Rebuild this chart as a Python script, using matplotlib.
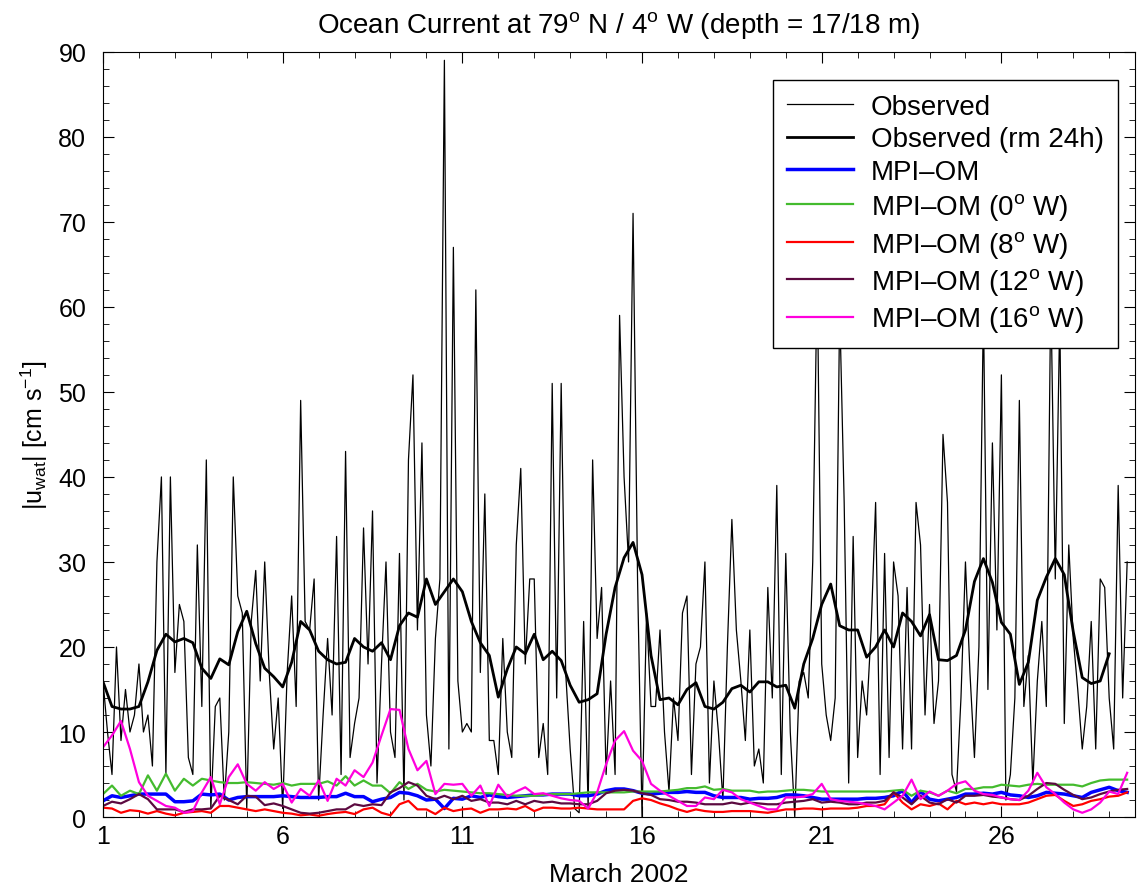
import matplotlib
matplotlib.use('Agg')
import matplotlib.pyplot as plt
import numpy as np
from matplotlib.ticker import MultipleLocator

# Observed current speed, 3-hourly, starting 1 March 00h (cm/s)
obs = [16, 10, 5, 20, 9, 15, 10, 12,
       18, 10, 12, 6, 30, 40, 5, 40,
       17, 25, 23, 7, 5, 32, 13, 42,
       1, 13, 14, 2, 10, 40, 26, 24,
       1, 23, 29, 16, 30, 17, 8, 14,
       1, 17, 26, 13, 49, 23, 22, 28,
       2, 12, 21, 12, 33, 5, 43, 7,
       11, 14, 34, 18, 36, 4, 18, 30,
       10, 7, 31, 2, 42, 52, 22, 44,
       12, 6, 21, 28, 89, 8, 67, 16,
       10, 11, 10, 62, 17, 38, 9, 9,
       5, 21, 10, 7, 32, 41, 18, 28,
       28, 7, 11, 5, 51, 14, 51, 17,
       8, 1, 0.5, 23, 1, 42, 21, 27,
       5, 16, 5, 59, 40, 30, 71, 28,
       0, 24, 13, 13, 22, 10, 3, 14,
       9, 24, 26, 5, 18, 20, 30, 4,
       16, 10, 2, 20, 35, 22, 16, 9,
       22, 6, 8, 4, 27, 14, 39, 5,
       31, 10, 0, 16, 17, 14, 30, 64,
       18, 12, 9, 14, 60, 37, 4, 33,
       7, 16, 12, 22, 37, 5, 31, 7,
       30, 26, 8, 27, 8, 37, 32, 12,
       25, 11, 16, 45, 37, 5, 3, 14,
       30, 17, 7, 20, 60, 15, 44, 22,
       52, 2, 5, 14, 49, 13, 19, 4,
       16, 23, 13, 62, 28, 59, 11, 32,
       21, 15, 8, 13, 23, 8, 28, 27,
       14, 8, 39, 14, 30]

# running mean 24h, 6-hourly
obs_rm = [15.9, 13, 12.7, 12.7, 13, 15.9, 19.6, 21.5,
          20.6, 21, 20.5, 17.5, 16.3, 18.6, 17.9, 21.8,
          24.2, 20.4, 17.5, 16.5, 15.3, 18.2, 23, 22,
          19.5, 18.5, 18, 18.2, 21, 20, 19.5, 20.5,
          18.5, 22.5, 24, 23.5, 28, 25, 26.5, 28,
          26.5, 23, 20.5, 19, 14.1, 17.4, 20, 19.2,
          21.5, 18.5, 19.5, 18.4, 15.5, 13.5, 13.8, 14.5,
          21.5, 27, 30.5, 32.3, 28.5, 19, 13.8, 14,
          13.2, 15, 15.8, 13, 12.7, 13.5, 15.1, 15.5,
          14.7, 15.9, 15.9, 15.3, 15.5, 12.8, 18, 21,
          25, 27.4, 22.5, 22, 22, 18.8, 20, 22,
          20, 24, 23, 21.3, 23.8, 18.5, 18.4, 19,
          22, 27.7, 30.4, 27.6, 22.9, 21.5, 15.6, 18.2,
          25.5, 28.2, 30.4, 28.5, 21.8, 16.4, 15.7, 16,
          19.2]

# model output, 6-hourly
mpiom = [1.9, 2.5, 2.3, 2.5, 2.7, 2.7, 2.7, 2.7, 1.8, 1.8, 1.9, 2.7,
         2.6, 2.7, 2.0, 2.3, 2.4, 2.4, 2.4, 2.4, 2.5, 2.4, 2.3, 2.3,
         2.3, 2.4, 2.4, 2.8, 2.4, 2.4, 1.8, 2.1, 2.3, 2.9, 2.8, 2.5,
         2.0, 2.1, 1.0, 2.2, 2.1, 2.5, 2.3, 2.6, 2.4, 2.3,
         2.4, 2.5, 2.6, 2.6, 2.7, 2.7, 2.7, 2.5, 2.5, 2.7, 3.1, 3.3,
         3.3, 3.1, 2.8, 2.7, 2.8, 2.9, 2.9, 3.0, 2.9, 2.9, 2.5, 2.3,
         2.3, 2.3, 2.1, 2.2, 2.2, 2.3, 2.6, 2.6, 2.5, 2.3, 2.1, 2.1,
         2.1, 2.1, 2.1, 2.2, 2.2, 2.3, 2.5, 3.1, 1.7, 3.0,
         2.1, 1.9, 2.1, 2.3, 2.7, 2.7, 2.8, 2.7, 2.9, 2.6, 2.5, 2.3,
         2.5, 2.9, 2.8, 2.7, 2.5, 2.3, 2.9, 3.2, 3.5, 3.1, 2.9]
mpiom_0w = [2.7, 3.7, 2.5, 3.1, 2.7, 4.9, 3.1, 5.1, 3.1, 4.5, 3.7, 4.5,
            4.3, 4.1, 4.0, 4.0, 4.1, 4.0, 3.9, 3.8, 4.0, 3.7, 3.9, 3.9,
            3.9, 4.2, 3.7, 4.8, 3.7, 4.3, 3.7, 3.7, 2.8, 4.1, 3.3, 3.9,
            3.2, 3.0, 3.2, 3.1, 3.0, 2.9, 2.8, 2.8, 2.7, 2.6,
            2.5, 2.5, 2.5, 2.6, 2.7, 2.7, 2.7, 2.8, 2.9, 2.9, 2.9, 2.9,
            2.9, 3.0, 3.0, 3.0, 3.0, 3.1, 3.2, 3.4, 3.4, 3.6, 3.2, 3.3,
            3.1, 3.1, 3.1, 2.9, 3.0, 3.0, 3.1, 3.2, 3.2, 3.1, 3.0, 3.0,
            3.0, 3.0, 3.0, 3.0, 3.0, 3.0, 3.1, 3.2, 2.5, 3.1,
            2.9, 2.5, 3.1, 2.8, 3.3, 3.3, 3.5, 3.5, 3.8, 3.7, 3.6, 3.8,
            3.9, 3.8, 3.8, 3.8, 3.8, 3.6, 4.0, 4.3, 4.4, 4.4, 4.4]
mpiom_8w = [1.1, 1.0, 0.5, 0.8, 0.7, 0.4, 0.7, 0.4, 0.2, 0.5, 0.6, 0.7,
            0.5, 1.3, 1.3, 1.1, 0.9, 0.7, 0.9, 0.7, 0.5, 0.4, 0.2, 0.3,
            0.15, 0.35, 0.5, 0.6, 0.35, 0.9, 1.1, 0.5, 0.2, 1.5, 1.9, 0.9,
            0.9, 0.35, 1.1, 0.7, 0.9, 1.0, 0.5, 0.9, 0.9, 1.0,
            0.9, 1.3, 0.7, 1.1, 1.1, 1.0, 1.0, 1.1, 1.0, 0.9, 0.9, 0.9,
            0.9, 1.9, 2.2, 2.0, 1.6, 1.3, 0.9, 0.6, 0.9, 0.7, 0.6, 0.6,
            0.7, 0.7, 0.7, 0.6, 0.5, 0.7, 0.9, 0.9, 1.0, 1.0, 0.9, 1.0,
            1.0, 1.0, 1.1, 1.3, 1.3, 1.5, 2.9, 1.7, 0.9, 1.5,
            1.3, 1.6, 0.9, 1.9, 1.5, 1.7, 1.5, 1.7, 1.5, 1.5, 1.5, 1.7,
            2.1, 2.5, 2.6, 1.9, 1.3, 1.5, 1.9, 2.1, 2.4, 2.5, 2.9]
mpiom_12w = [1.3, 1.8, 1.6, 2.1, 2.7, 2.1, 0.9, 0.9, 0.9, 0.6, 0.9, 0.9,
             1.0, 2.5, 2.0, 1.5, 2.5, 2.4, 1.4, 1.6, 1.3, 0.9, 0.5, 0.4,
             0.5, 0.7, 0.9, 0.9, 1.5, 1.3, 1.5, 1.4, 2.9, 3.4, 4.1, 3.7,
             2.5, 2.1, 2.5, 2.1, 2.5, 1.9, 2.1, 1.7, 1.7, 1.5,
             1.9, 1.5, 1.9, 1.7, 1.8, 1.6, 1.6, 1.5, 1.5, 1.9, 2.8, 3.1,
             3.2, 3.1, 2.8, 2.6, 2.1, 2.0, 1.8, 1.8, 1.7, 1.5, 1.5, 1.5,
             1.7, 1.5, 1.7, 1.6, 1.5, 1.5, 1.7, 1.8, 1.9, 2.1, 1.7, 1.8,
             1.7, 1.5, 1.5, 1.7, 1.7, 1.9, 2.9, 2.3, 1.5, 2.5,
             1.7, 1.5, 2.1, 1.7, 2.5, 2.5, 2.6, 2.4, 2.3, 2.1, 2.0, 2.5,
             3.3, 4.0, 3.9, 3.2, 2.6, 2.1, 2.3, 2.7, 3.0, 3.2, 3.3]
mpiom_16w = [8.2, 9.6, 11.3, 8.0, 4.1, 2.5, 1.9, 1.3, 1.1, 0.5, 0.7, 2.9,
             4.7, 1.5, 4.7, 6.2, 3.9, 3.1, 4.1, 3.3, 3.9, 1.7, 3.3, 2.5,
             4.3, 1.9, 4.5, 3.7, 5.5, 4.7, 6.4, 9.6, 12.7, 12.6, 8.0, 5.5,
             6.6, 2.7, 3.9, 3.8, 3.9, 2.5, 3.7, 1.3, 3.8, 2.4,
             3.0, 3.5, 2.7, 2.8, 2.5, 2.2, 2.0, 1.9, 1.0, 2.9, 6.2, 9.0,
             10.1, 7.8, 6.6, 3.9, 3.1, 2.5, 1.9, 1.3, 1.3, 2.3, 2.1, 3.2,
             2.9, 2.1, 1.7, 1.3, 0.9, 0.9, 2.3, 2.3, 2.4, 2.7, 3.9, 2.1,
             1.9, 1.8, 1.7, 1.5, 1.3, 0.9, 1.7, 2.5, 4.4, 2.1,
             3.0, 2.5, 3.1, 3.9, 4.2, 3.1, 2.7, 2.6, 2.3, 2.1, 2.0, 3.1,
             5.2, 3.5, 2.7, 1.7, 0.9, 0.5, 0.9, 1.7, 3.0, 2.7, 5.2]

xticks = [1, 6, 11, 16, 21, 26]

plt.rcParams['font.family'] = ['Liberation Sans', 'DejaVu Sans']
plt.rcParams['mathtext.fontset'] = 'custom'
plt.rcParams['mathtext.rm'] = 'Liberation Sans'
plt.rcParams['mathtext.it'] = 'Liberation Sans:italic'

fig = plt.figure(figsize=(11.37, 8.95), dpi=100)
ax = fig.add_axes([0.0906, 0.086, 0.9077, 0.855])

t_obs = 1 + np.arange(len(obs)) / 8.0
t_rm = 1 + np.arange(len(obs_rm)) / 4.0

ax.plot(t_obs, obs, color='k', lw=0.9, label='Observed')
ax.plot(t_rm, obs_rm, color='k', lw=2.0, label='Observed (rm 24h)')
ax.plot(1 + np.arange(len(mpiom)) / 4.0, mpiom, color='#0000ff', lw=2.5, label='MPI\u2013OM')
ax.plot(1 + np.arange(len(mpiom_0w)) / 4.0, mpiom_0w, color='#44bb2e', lw=1.6,
        label='MPI\u2013OM (0$^{\\mathrm{o}}$ W)')
ax.plot(1 + np.arange(len(mpiom_8w)) / 4.0, mpiom_8w, color='#ff0000', lw=1.6,
        label='MPI\u2013OM (8$^{\\mathrm{o}}$ W)')
ax.plot(1 + np.arange(len(mpiom_12w)) / 4.0, mpiom_12w, color='#5c0a40', lw=1.6,
        label='MPI\u2013OM (12$^{\\mathrm{o}}$ W)')
ax.plot(1 + np.arange(len(mpiom_16w)) / 4.0, mpiom_16w, color='#ff00dd', lw=1.6,
        label='MPI\u2013OM (16$^{\\mathrm{o}}$ W)')

ax.set_xlim(1, 29.72)
ax.set_ylim(0, 90)
ax.set_xticks(xticks)
ax.xaxis.set_minor_locator(MultipleLocator(1))
ax.yaxis.set_major_locator(MultipleLocator(10))
ax.yaxis.set_minor_locator(MultipleLocator(2))
ax.tick_params(which='both', direction='in', top=True, right=True, labelsize=18)
ax.tick_params(axis='x', which='major', pad=5)
ax.tick_params(axis='y', which='major', pad=12)
ax.tick_params(which='major', length=8)
ax.tick_params(which='minor', length=4)

ax.set_title('Ocean Current at 79$^{\\mathrm{o}}$ N / 4$^{\\mathrm{o}}$ W (depth = 17/18 m)',
             fontsize=20, pad=14)
ax.set_xlabel('March 2002', fontsize=19, labelpad=10)
ax.set_ylabel('|u$_{\\mathrm{wat}}$| [cm s$^{-1}$]', fontsize=18, labelpad=6)

leg = ax.legend(loc='upper right', bbox_to_anchor=(0.983, 0.963), borderaxespad=0,
                fontsize=20, fancybox=False, framealpha=1, edgecolor='k',
                handlelength=2.35, labelspacing=0.23, borderpad=0.5, handletextpad=0.65)
leg.get_frame().set_linewidth(1.0)

fig.savefig('out.png', dpi=100)
